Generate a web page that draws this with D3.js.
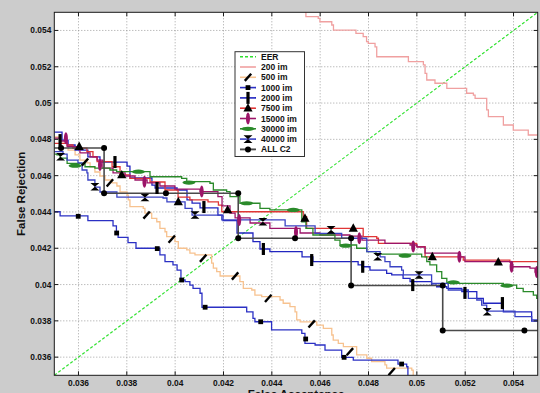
<!DOCTYPE html>
<html>
<head>
<meta charset="utf-8">
<script src="https://cdn.jsdelivr.net/npm/d3@7"></script>
<style>
  html, body { margin: 0; padding: 0; background: #cccccc; }
  svg { display: block; }
  text { font-family: "Liberation Sans", Arial, sans-serif; font-weight: bold; }
</style>
</head>
<body>
<svg id="chart" width="540" height="393"></svg>
<script>
// Axis ticks (False Acceptance / False Rejection)
const xTicks = [0.036, 0.038, 0.04, 0.042, 0.044, 0.046, 0.048, 0.05, 0.052, 0.054];
const yTicks = [0.036, 0.038, 0.04, 0.042, 0.044, 0.046, 0.048, 0.05, 0.052, 0.054];

// Equal error rate diagonal
const eer = [[0.035, 0.035], [0.055, 0.055]];

// DET staircases: [false acceptance, false rejection], each point starts a horizontal run
const im200 = [[0.04537,0.05503],[0.04541,0.05476],[0.04592,0.05467],[0.04599,0.05448],[0.04648,0.05430],
  [0.04655,0.05402],[0.04748,0.05384],[0.04778,0.05366],[0.04792,0.05338],[0.04799,0.05329],[0.04827,0.05310],
  [0.04834,0.05255],[0.04965,0.05228],[0.05027,0.05210],[0.05034,0.05164],[0.05041,0.05127],[0.05075,0.05109],
  [0.05124,0.05081],[0.05206,0.05054],[0.05234,0.05044],[0.05241,0.05026],[0.05289,0.04962],[0.05296,0.04925],
  [0.05358,0.04879],[0.05399,0.04851],[0.05461,0.04824],[0.05510,0.04824]];

const im500 = [[0.03500,0.04813],[0.03524,0.04778],[0.03557,0.04741],[0.03586,0.04714],[0.03606,0.04686],
  [0.03635,0.04670],[0.03648,0.04648],[0.03668,0.04620],[0.03689,0.04598],[0.03710,0.04576],[0.03739,0.04560],
  [0.03759,0.04543],[0.03772,0.04510],[0.03801,0.04493],[0.03806,0.04466],[0.03813,0.04429],[0.03868,0.04420],
  [0.03875,0.04393],[0.03903,0.04365],[0.03924,0.04346],[0.03937,0.04310],[0.03958,0.04291],[0.03965,0.04264],
  [0.03999,0.04236],[0.04013,0.04200],[0.04048,0.04191],[0.04061,0.04173],[0.04082,0.04163],[0.04151,0.04118],
  [0.04158,0.04090],[0.04172,0.04071],[0.04186,0.04047],[0.04268,0.04016],[0.04282,0.03979],[0.04317,0.03970],
  [0.04330,0.03942],[0.04358,0.03933],[0.04434,0.03915],[0.04447,0.03897],[0.04475,0.03878],[0.04496,0.03850],
  [0.04503,0.03805],[0.04517,0.03794],[0.04586,0.03777],[0.04613,0.03759],[0.04648,0.03722],[0.04654,0.03694],
  [0.04675,0.03676],[0.04696,0.03658],[0.04751,0.03612],[0.04793,0.03594],[0.04813,0.03575],[0.04868,0.03557],
  [0.04875,0.03539],[0.04979,0.03529],[0.04985,0.03474]];
const im500Marks = [[0.03627,0.04675],[0.03730,0.04560],[0.03882,0.04383],[0.03986,0.04250],[0.04116,0.04145],
  [0.04248,0.04047],[0.04385,0.03924],[0.04565,0.03783],[0.04723,0.03630],[0.04896,0.03520]];

const im1000 = [[0.03500,0.04401],[0.03524,0.04378],[0.03639,0.04352],[0.03743,0.04323],[0.03757,0.04284],
  [0.03764,0.04260],[0.03805,0.04231],[0.03838,0.04200],[0.03937,0.04163],[0.03958,0.04126],[0.03991,0.04108],
  [0.04008,0.04080],[0.04024,0.04025],[0.04041,0.04016],[0.04061,0.03997],[0.04074,0.03979],[0.04103,0.03952],
  [0.04111,0.03875],[0.04296,0.03850],[0.04322,0.03814],[0.04330,0.03795],[0.04399,0.03750],[0.04524,0.03731],
  [0.04537,0.03676],[0.04579,0.03667],[0.04620,0.03639],[0.04689,0.03599],[0.04737,0.03584],[0.04922,0.03562],
  [0.04958,0.03547],[0.04963,0.03474]];
const im1000Marks = [[0.03599,0.04376],[0.03758,0.04284],[0.03926,0.04198],[0.04027,0.04025],[0.04124,0.03875],
  [0.04354,0.03795],[0.04540,0.03700],[0.04699,0.03599],[0.04937,0.03562]];

const im2000 = [[0.03500,0.04840],[0.03532,0.04796],[0.03557,0.04769],[0.03586,0.04741],[0.03639,0.04703],
  [0.03689,0.04675],[0.03801,0.04653],[0.03813,0.04587],[0.03904,0.04548],[0.03917,0.04532],[0.04008,0.04521],
  [0.04049,0.04466],[0.04070,0.04449],[0.04103,0.04422],[0.04177,0.04383],[0.04198,0.04352],[0.04256,0.04284],
  [0.04322,0.04236],[0.04351,0.04196],[0.04392,0.04181],[0.04525,0.04153],[0.04570,0.04126],[0.04757,0.04108],
  [0.04773,0.04098],[0.04806,0.04080],[0.04875,0.04062],[0.04896,0.04053],[0.04943,0.04034],[0.04972,0.04016],
  [0.05061,0.03997],[0.05082,0.03988],[0.05124,0.03979],[0.05186,0.03961],[0.05248,0.03924],[0.05275,0.03897],
  [0.05358,0.03850],[0.05475,0.03799],[0.05510,0.03799]];
const im2000Marks = [[0.03524,0.04796],[0.03751,0.04675],[0.03925,0.04532],[0.04119,0.04427],[0.04365,0.04196],
  [0.04565,0.04135],[0.04776,0.04098],[0.04983,0.03997],[0.05199,0.03954],[0.05354,0.03898]];

const im7500 = [[0.03500,0.04778],[0.03553,0.04769],[0.03577,0.04752],[0.03635,0.04732],[0.03660,0.04704],
  [0.03677,0.04677],[0.03739,0.04649],[0.03772,0.04604],[0.03813,0.04585],[0.03896,0.04565],[0.03958,0.04521],
  [0.04012,0.04482],[0.04061,0.04466],[0.04136,0.04456],[0.04179,0.04438],[0.04193,0.04401],[0.04530,0.04374],
  [0.04544,0.04310],[0.04778,0.04264],[0.04834,0.04255],[0.04841,0.04227],[0.04999,0.04209],[0.05034,0.04153],
  [0.05192,0.04135],[0.05385,0.04126],[0.05510,0.04126]];
const im7500Marks = [[0.03603,0.04760],[0.03779,0.04604],[0.04013,0.04456],[0.04217,0.04411],[0.04537,0.04365],
  [0.04737,0.04310],[0.05064,0.04153],[0.05337,0.04124]];

const im15000 = [[0.03500,0.04807],[0.03524,0.04791],[0.03553,0.04760],[0.03606,0.04725],[0.03648,0.04703],
  [0.03677,0.04686],[0.03701,0.04642],[0.03743,0.04615],[0.03793,0.04598],[0.03834,0.04576],[0.03884,0.04560],
  [0.03937,0.04543],[0.03999,0.04526],[0.04103,0.04512],[0.04177,0.04484],[0.04194,0.04433],[0.04227,0.04394],
  [0.04248,0.04367],[0.04310,0.04339],[0.04392,0.04310],[0.04517,0.04284],[0.04599,0.04273],[0.04723,0.04267],
  [0.04773,0.04245],[0.04868,0.04227],[0.04972,0.04218],[0.05001,0.04207],[0.05034,0.04173],[0.05179,0.04153],
  [0.05199,0.04126],[0.05385,0.04124],[0.05394,0.04098],[0.05468,0.04091],[0.05489,0.04069],[0.05510,0.04069]];
const im15000Marks = [[0.03548,0.04806],[0.03689,0.04659],[0.03873,0.04567],[0.04110,0.04512],[0.04265,0.04356],
  [0.04500,0.04290],[0.04762,0.04255],[0.04985,0.04209],[0.05176,0.04153],[0.05392,0.04098],[0.05496,0.04069]];

const im30000 = [[0.03500,0.04719],[0.03511,0.04714],[0.03524,0.04697],[0.03553,0.04668],[0.03627,0.04649],
  [0.03668,0.04642],[0.03730,0.04631],[0.03758,0.04622],[0.03896,0.04594],[0.04027,0.04585],[0.04048,0.04567],
  [0.04144,0.04558],[0.04158,0.04521],[0.04213,0.04512],[0.04227,0.04484],[0.04268,0.04448],[0.04351,0.04420],
  [0.04392,0.04411],[0.04524,0.04345],[0.04541,0.04310],[0.04570,0.04273],[0.04661,0.04245],[0.04682,0.04218],
  [0.04751,0.04200],[0.04793,0.04181],[0.04831,0.04168],[0.05020,0.04153],[0.05041,0.04126],[0.05054,0.04108],
  [0.05082,0.04071],[0.05103,0.04034],[0.05124,0.04007],[0.05358,0.03997],[0.05413,0.03979],[0.05440,0.03961],
  [0.05482,0.03942],[0.05496,0.03924],[0.05510,0.03924]];
const im30000Marks = [[0.03586,0.04655],[0.03848,0.04622],[0.04057,0.04562],[0.04296,0.04448],[0.04489,0.04411],
  [0.04706,0.04214],[0.04951,0.04159],[0.05151,0.04012],[0.05372,0.03994]];

const im40000 = [[0.03500,0.04732],[0.03536,0.04719],[0.03553,0.04686],[0.03598,0.04670],[0.03615,0.04631],
  [0.03635,0.04615],[0.03639,0.04576],[0.03668,0.04537],[0.03689,0.04510],[0.03759,0.04482],[0.03950,0.04477],
  [0.03966,0.04456],[0.04041,0.04420],[0.04070,0.04383],[0.04193,0.04356],[0.04455,0.04323],[0.04579,0.04282],
  [0.04689,0.04255],[0.04793,0.04181],[0.04848,0.04153],[0.04868,0.04126],[0.04889,0.04098],[0.04937,0.04080],
  [0.04944,0.04053],[0.05061,0.04007],[0.05130,0.03970],[0.05213,0.03924],[0.05248,0.03915],[0.05268,0.03887],
  [0.05289,0.03854],[0.05406,0.03823],[0.05475,0.03805],[0.05510,0.03805]];
const im40000Marks = [[0.03526,0.04704],[0.03668,0.04539],[0.03875,0.04480],[0.04082,0.04383],[0.04363,0.04346],
  [0.04645,0.04301],[0.04838,0.04153],[0.05009,0.04053],[0.05291,0.03850]];

const allC2 = [[0.03500,0.04752],[0.03706,0.04503],[0.04261,0.04255],[0.04728,0.03995],[0.05107,0.03747],[0.05510,0.03747]];
const allC2Marks = [[0.03528,0.04752],[0.03706,0.04752],[0.03706,0.04503],[0.03962,0.04503],[0.04261,0.04503],
  [0.04261,0.04255],[0.04496,0.04255],[0.04728,0.04255],[0.04728,0.03995],[0.05107,0.03995],[0.05107,0.03747],
  [0.05445,0.03747]];

const legendLabels = ["EER", "200 im", "500 im", "1000 im", "2000 im", "7500 im", "15000 im", "30000 im", "40000 im", "ALL C2"];

// Series table assembled from the arrays above
const series = [
  { label: legendLabels[0], data: eer, marks: [], color: "#2ee02e", dash: "3,2", marker: null, width: 1.1 },
  { label: legendLabels[1], data: im200, marks: [], color: "#f0a0a0", marker: null, width: 1.3 },
  { label: legendLabels[2], data: im500, marks: im500Marks, color: "#f7c28f", marker: "slash", width: 1.3 },
  { label: legendLabels[3], data: im1000, marks: im1000Marks, color: "#2b30c4", marker: "square", width: 1.3 },
  { label: legendLabels[4], data: im2000, marks: im2000Marks, color: "#2226c0", marker: "bar", width: 1.3 },
  { label: legendLabels[5], data: im7500, marks: im7500Marks, color: "#e03636", marker: "triangle", width: 1.3 },
  { label: legendLabels[6], data: im15000, marks: im15000Marks, color: "#9c1468", marker: "vellipse", width: 1.3 },
  { label: legendLabels[7], data: im30000, marks: im30000Marks, color: "#2a8a2a", marker: "hellipse", width: 1.3 },
  { label: legendLabels[8], data: im40000, marks: im40000Marks, color: "#3a42c4", marker: "hourglass", width: 1.3 },
  { label: legendLabels[9], data: allC2, marks: allC2Marks, color: "#4a4a4a", marker: "circle", width: 1.6 }
];

const W = 540, H = 393;
const plot = { left: 54.3, right: 537.7, top: 12.3, bottom: 375.3 };

const svg = d3.select("#chart");
svg.append("rect").attr("x", 0).attr("y", 0).attr("width", W).attr("height", H).attr("fill", "#cccccc");

const x = d3.scaleLinear().domain([0.035, 0.055]).range([plot.left, plot.right]);
const y = d3.scaleLinear().domain([0.035, 0.055]).range([plot.bottom, plot.top]);

svg.append("defs").append("clipPath").attr("id", "plotClip")
  .append("rect").attr("x", plot.left).attr("y", plot.top)
  .attr("width", plot.right - plot.left).attr("height", plot.bottom - plot.top);

// Plot background
svg.append("rect").attr("x", plot.left).attr("y", plot.top)
  .attr("width", plot.right - plot.left).attr("height", plot.bottom - plot.top)
  .attr("fill", "#ffffff");

// Dotted grid
const grid = svg.append("g");
grid.selectAll("line.gx").data(xTicks).join("line")
  .attr("x1", d => x(d)).attr("x2", d => x(d))
  .attr("y1", plot.top).attr("y2", plot.bottom)
  .attr("stroke", "#8a8a8a").attr("stroke-width", 0.8).attr("stroke-dasharray", "1,2");
grid.selectAll("line.gy").data(yTicks).join("line")
  .attr("y1", d => y(d)).attr("y2", d => y(d))
  .attr("x1", plot.left).attr("x2", plot.right)
  .attr("stroke", "#8a8a8a").attr("stroke-width", 0.8).attr("stroke-dasharray", "1,2");

// Marker shapes
function drawMarker(g, type, color) {
  switch (type) {
    case "slash":
      g.append("path").attr("d", "M-3.2,3.6L3.2,-3.6").attr("stroke", "#000").attr("stroke-width", 2.4);
      break;
    case "square":
      g.append("rect").attr("x", -2.4).attr("y", -2.4).attr("width", 4.8).attr("height", 4.8).attr("fill", "#000");
      break;
    case "bar":
      g.append("rect").attr("x", -1.6).attr("y", -6).attr("width", 3.2).attr("height", 12).attr("fill", "#000");
      break;
    case "triangle":
      g.append("path").attr("d", "M0,-5L4.6,3.4L-4.6,3.4Z").attr("fill", "#000");
      break;
    case "vellipse":
      g.append("ellipse").attr("rx", 2).attr("ry", 6).attr("fill", color);
      break;
    case "hellipse":
      g.append("ellipse").attr("rx", 6.5).attr("ry", 2.1).attr("fill", color);
      break;
    case "hourglass":
      g.append("path").attr("d", "M-4.5,-3.8L4.5,-3.8L-4.5,3.8L4.5,3.8Z").attr("fill", "#000");
      break;
    case "circle":
      g.append("circle").attr("r", 3).attr("fill", "#000");
      break;
  }
}

const line = d3.line().x(d => x(d[0])).y(d => y(d[1])).curve(d3.curveStepAfter);
const straight = d3.line().x(d => x(d[0])).y(d => y(d[1]));

const layer = svg.append("g").attr("clip-path", "url(#plotClip)");
series.forEach((s, i) => {
  layer.append("path").datum(s.data)
    .attr("d", i === 0 ? straight : line)
    .attr("fill", "none")
    .attr("stroke", s.color)
    .attr("stroke-width", s.width)
    .attr("stroke-dasharray", s.dash || null);
});
series.forEach(s => {
  s.marks.forEach(m => {
    const g = layer.append("g").attr("transform", `translate(${x(m[0])},${y(m[1])})`);
    drawMarker(g, s.marker, s.color);
  });
});

// Axes box and inward ticks
svg.append("rect").attr("x", plot.left).attr("y", plot.top)
  .attr("width", plot.right - plot.left).attr("height", plot.bottom - plot.top)
  .attr("fill", "none").attr("stroke", "#1a1a1a").attr("stroke-width", 1);
const ticks = svg.append("g").attr("stroke", "#1a1a1a").attr("stroke-width", 1);
xTicks.forEach(t => {
  ticks.append("line").attr("x1", x(t)).attr("x2", x(t)).attr("y1", plot.bottom).attr("y2", plot.bottom - 4);
  ticks.append("line").attr("x1", x(t)).attr("x2", x(t)).attr("y1", plot.top).attr("y2", plot.top + 4);
});
yTicks.forEach(t => {
  ticks.append("line").attr("y1", y(t)).attr("y2", y(t)).attr("x1", plot.left).attr("x2", plot.left + 4);
  ticks.append("line").attr("y1", y(t)).attr("y2", y(t)).attr("x1", plot.right).attr("x2", plot.right - 4);
});

// Tick labels
svg.append("g").selectAll("text").data(xTicks).join("text")
  .attr("x", d => x(d)).attr("y", 385.6)
  .attr("text-anchor", "middle").attr("font-size", "8.4px").attr("fill", "#111")
  .text(d => String(d));
svg.append("g").selectAll("text").data(yTicks).join("text")
  .attr("x", plot.left - 3).attr("y", d => y(d) + 3)
  .attr("text-anchor", "end").attr("font-size", "8.4px").attr("fill", "#111")
  .text(d => String(d));

// Axis titles
svg.append("text").attr("x", (plot.left + plot.right) / 2).attr("y", 397.5)
  .attr("text-anchor", "middle").attr("font-size", "11.5px").attr("fill", "#111")
  .text("False Acceptance");
svg.append("text").attr("transform", `translate(25,${(plot.top + plot.bottom) / 2}) rotate(-90)`)
  .attr("text-anchor", "middle").attr("font-size", "11.5px").attr("fill", "#111")
  .text("False Rejection");

// Legend
const lg = { x: 235, y: 51.7, w: 69.5, h: 104.8, row: 10.3 };
const legend = svg.append("g");
legend.append("rect").attr("x", lg.x).attr("y", lg.y).attr("width", lg.w).attr("height", lg.h)
  .attr("fill", "#ffffff").attr("stroke", "#333").attr("stroke-width", 1);
series.forEach((s, i) => {
  const cy = lg.y + 5 + i * lg.row;
  legend.append("line").attr("x1", lg.x + 5).attr("x2", lg.x + 21).attr("y1", cy).attr("y2", cy)
    .attr("stroke", s.color).attr("stroke-width", s.width + 0.3).attr("stroke-dasharray", s.dash || null);
  if (s.marker) {
    const g = legend.append("g").attr("transform", `translate(${lg.x + 13},${cy})`);
    drawMarker(g, s.marker, s.color);
  }
  legend.append("text").attr("x", lg.x + 26).attr("y", cy + 3)
    .attr("font-size", "8.5px").attr("fill", "#111").text(s.label);
});
</script>
</body>
</html>
